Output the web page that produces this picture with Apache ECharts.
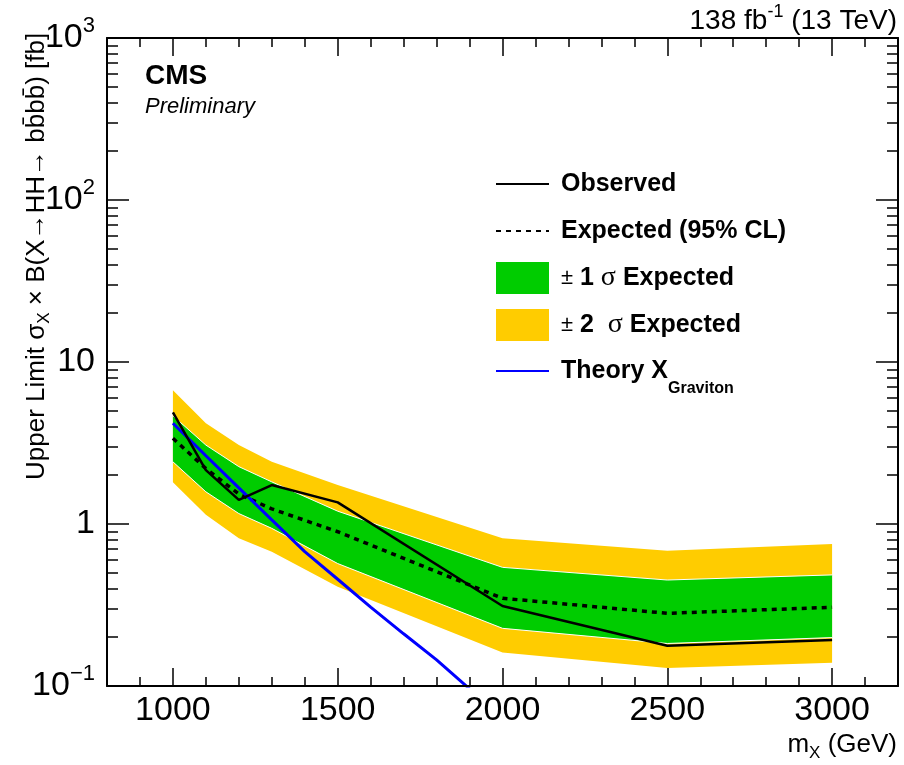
<!DOCTYPE html>
<html><head><meta charset="utf-8">
<script src="https://cdn.jsdelivr.net/npm/echarts@6/dist/echarts.min.js"></script>
<style>html,body{margin:0;padding:0;background:#fff}#c{width:904px;height:765px}</style>
</head><body><div id="c"></div>
<script>
// ---- data ----
const massPoints = [1000, 1100, 1200, 1300, 1500, 2000, 2500, 3000];
const observed   = [4.89, 2.15, 1.41, 1.74, 1.36, 0.312, 0.177, 0.192];
const expected   = [3.38, 2.20, 1.53, 1.24, 0.896, 0.348, 0.281, 0.306];
const plus1sigma = [4.66, 3.07, 2.26, 1.82, 1.20, 0.540, 0.451, 0.485];
const minus1sigma= [2.42, 1.58, 1.16, 0.94, 0.57, 0.227, 0.183, 0.199];
const plus2sigma = [6.70, 4.18, 3.07, 2.42, 1.74, 0.816, 0.684, 0.752];
const minus2sigma= [1.81, 1.14, 0.816, 0.675, 0.41, 0.161, 0.129, 0.139];
const theoryMass = [1000, 1100, 1200, 1300, 1400, 1500, 1600, 1700, 1800, 1900];
const theoryXsec = [4.19, 2.64, 1.67, 1.06, 0.676, 0.456, 0.307, 0.210, 0.145, 0.096];

const xMajorTicks = [1000, 1500, 2000, 2500, 3000];
const xMinorTicks = [800, 900, 1100, 1200, 1300, 1400, 1600, 1700, 1800, 1900, 2100, 2200, 2300, 2400, 2600, 2700, 2800, 2900, 3100, 3200];
const yMajorTicks = [0.1, 1, 10, 100, 1000];
const yMinorTicks = [0.2,0.3,0.4,0.5,0.6,0.7,0.8,0.9, 2,3,4,5,6,7,8,9, 20,30,40,50,60,70,80,90, 200,300,400,500,600,700,800,900];
const yTickLabels = {0.1: '10{sup|−1}', 1: '1', 10: '10', 100: '10{sup|2}', 1000: '10{sup|3}'};

const legendLabels = {
  'Observed': '{b|Observed}',
  'Expected (95% CL)': '{b|Expected (95% CL)}',
  '±1σ Expected': '{n|±} {b|1} {g|σ} {b|Expected}',
  '±2σ Expected': '{n|±} {b|2}  {g|σ} {b|Expected}',
  'Theory X Graviton': '{b|Theory X}{s|Graviton}'
};

// ---- build ----
const FONT = '"Liberation Sans", Arial, Helvetica, sans-serif';
const pair = (xs, ys) => xs.map((x, i) => [x, ys[i]]);
const triple = (xs, lo, hi) => xs.map((x, i) => [x, lo[i], hi[i]]);
const GREEN = '#00cc00', YELLOW = '#ffcc00', BLUE = '#0000ff';

function xAx(pos, ticks, len, showLine, showLabel) {
  return {
    type: 'value', min: 800, max: 3200, position: pos, z: 10,
    axisLine: {show: showLine, onZero: false, lineStyle: {color: '#000', width: 2}},
    axisTick: {show: true, inside: true, length: len, customValues: ticks, lineStyle: {color: '#000', width: 1.5}},
    axisLabel: showLabel ? {show: true, customValues: xMajorTicks, fontSize: 34, color: '#000', fontFamily: FONT, margin: 8,
      formatter: v => String(v)} : {show: false},
    splitLine: {show: false}
  };
}
function yAx(pos, ticks, len, showLine, showLabel) {
  return {
    type: 'log', logBase: 10, min: 0.1, max: 1000, position: pos, z: 10,
    axisLine: {show: showLine, onZero: false, lineStyle: {color: '#000', width: 2}},
    axisTick: {show: true, inside: true, length: len, customValues: ticks, lineStyle: {color: '#000', width: 1.5}},
    axisLabel: showLabel ? {
      show: true, customValues: yMajorTicks, fontSize: 34, color: '#000', fontFamily: FONT, margin: 12,
      formatter: v => yTickLabels[v] !== undefined ? yTickLabels[v] : String(v),
      rich: {sup: {fontSize: 22, fontFamily: FONT, color: '#000', padding: [0, 0, 24, 0]}}
    } : {show: false},
    splitLine: {show: false}, minorTick: {show: false}
  };
}

function bandRenderer(fill, edge) {
  return function (params, api) {
    if (params.dataIndexInside !== 0) return null;
    const n = params.dataInsideLength;
    const top = [], bot = [];
    for (let i = 0; i < n; i++) {
      const x = api.value(0, i);
      top.push(api.coord([x, api.value(2, i)]));
      bot.push(api.coord([x, api.value(1, i)]));
    }
    const children = [{type: 'polygon', shape: {points: top.concat(bot.slice().reverse())}, style: {fill: fill}}];
    if (edge) {
      children.push({type: 'polyline', shape: {points: top}, style: {stroke: edge, lineWidth: 1, fill: null}});
      children.push({type: 'polyline', shape: {points: bot}, style: {stroke: edge, lineWidth: 1, fill: null}});
    }
    return {type: 'group', children: children};
  };
}

const LH = 32;
const legendText = {
  fontFamily: FONT, fontWeight: 'bold', fontSize: 25, color: '#000', padding: [0, 0, 0, 7], lineHeight: LH,
  rich: {
    b: {fontFamily: FONT, fontWeight: 'bold', fontSize: 25, color: '#000', lineHeight: LH},
    n: {fontFamily: FONT, fontWeight: 'normal', fontSize: 22, color: '#000', lineHeight: LH},
    g: {fontFamily: '"Liberation Serif", "Times New Roman", serif', fontWeight: 'normal', fontSize: 28, color: '#000', lineHeight: LH},
    s: {fontFamily: FONT, fontWeight: 'bold', fontSize: 16, color: '#000', padding: [36, 0, 0, 0]}
  }
};
const legendBase = {orient: 'vertical', left: 495, itemWidth: 53, itemHeight: 32, itemGap: 15, padding: 0,
  selectedMode: false, textStyle: legendText, formatter: name => legendLabels[name] || name};

const option = {
  animation: false,
  backgroundColor: '#fff',
  grid: {left: 107, right: 6, top: 38, bottom: 79, outerBoundsMode: 'none', containLabel: false},
  xAxis: [
    xAx('bottom', xMajorTicks, 18, true, true),
    xAx('bottom', xMinorTicks, 9, false, false),
    xAx('top', xMajorTicks, 18, true, false),
    xAx('top', xMinorTicks, 9, false, false)
  ],
  yAxis: [
    yAx('left', yMajorTicks, 22, true, true),
    yAx('left', yMinorTicks, 11, false, false),
    yAx('right', yMajorTicks, 22, true, false),
    yAx('right', yMinorTicks, 11, false, false)
  ],
  legend: [
    Object.assign({}, legendBase, {top: 168, data: [
      {name: 'Observed', itemStyle: {opacity: 0}},
      {name: 'Expected (95% CL)', itemStyle: {opacity: 0}},
      {name: '±1σ Expected', icon: 'rect', itemStyle: {color: GREEN, borderWidth: 0}},
      {name: '±2σ Expected', icon: 'rect', itemStyle: {color: YELLOW, borderWidth: 0}}
    ]}),
    Object.assign({}, legendBase, {top: 355, data: [
      {name: 'Theory X Graviton', itemStyle: {opacity: 0}}
    ]})
  ],
  series: [
    {name: '±2σ Expected', type: 'custom', data: triple(massPoints, minus2sigma, plus2sigma),
     encode: {x: 0, y: [1, 2]}, itemStyle: {color: YELLOW}, silent: true, renderItem: bandRenderer(YELLOW, null)},
    {name: '±1σ Expected', type: 'custom', data: triple(massPoints, minus1sigma, plus1sigma),
     encode: {x: 0, y: [1, 2]}, itemStyle: {color: GREEN}, silent: true, renderItem: bandRenderer(GREEN, '#ffffff')},
    {name: 'Expected (95% CL)', type: 'line', data: pair(massPoints, expected), symbol: 'none', z: 4,
     itemStyle: {color: '#000'}, lineStyle: {width: 3.5, color: '#000', type: [5, 5]}},
    {name: 'Theory X Graviton', type: 'line', data: pair(theoryMass, theoryXsec), symbol: 'none', z: 4, clip: true,
     itemStyle: {color: BLUE}, lineStyle: {width: 3, color: BLUE}},
    {name: 'Observed', type: 'line', data: pair(massPoints, observed), symbol: 'none', z: 5,
     itemStyle: {color: '#000'}, lineStyle: {width: 2.5, color: '#000'}}
  ],
  graphic: [
    {type: 'text', x: 897, y: 21, z: 20, style: {
      text: '{a|138 fb}{s|-1}{a| (13 TeV)}', align: 'right', verticalAlign: 'middle',
      rich: {a: {fontSize: 28, fontFamily: FONT, fill: '#000'}, s: {fontSize: 18, fontFamily: FONT, fill: '#000', padding: [0, 0, 18, 0]}}
    }},
    {type: 'text', x: 145, y: 76, z: 20, style: {
      text: 'CMS', font: 'bold 28px ' + FONT, fill: '#000', align: 'left', verticalAlign: 'middle'
    }},
    {type: 'text', x: 145, y: 107, z: 20, style: {
      text: 'Preliminary', font: 'italic 22px ' + FONT, fill: '#000', align: 'left', verticalAlign: 'middle'
    }},
    {type: 'text', x: 37, y: 480, rotation: Math.PI / 2, z: 20, style: {
      text: '{t|Upper Limit σ}{s|X}{t| × B(X→HH→ bb̄bb̄) [fb]}', align: 'left', verticalAlign: 'middle',
      rich: {t: {fontSize: 26, fontFamily: FONT, fill: '#000'}, s: {fontSize: 17, fontFamily: FONT, fill: '#000', padding: [14, 0, 0, 0]}}
    }},
    {type: 'text', x: 897, y: 745, z: 20, style: {
      text: '{t|m}{s|X}{t| (GeV)}', align: 'right', verticalAlign: 'middle',
      rich: {t: {fontSize: 26, fontFamily: FONT, fill: '#000'}, s: {fontSize: 17, fontFamily: FONT, fill: '#000', padding: [16, 0, 0, 0]}}
    }}
  ]
};

const chart = echarts.init(document.getElementById('c'), null, {renderer: 'canvas'});
chart.setOption(option);
</script>
</body></html>
